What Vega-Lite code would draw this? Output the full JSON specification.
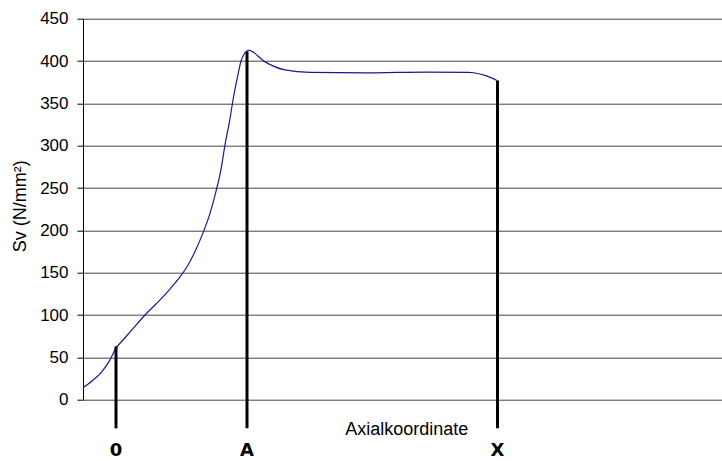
{
  "$schema": "https://vega.github.io/schema/vega-lite/v6.json",
  "width": 639,
  "height": 381,
  "autosize": {"type": "none"},
  "padding": {"left": 83, "top": 18.7, "right": 0, "bottom": 61.3},
  "background": "white",
  "config": {"view": {"stroke": null}, "font": "Liberation Sans"},
  "datasets": {
    "curve": [
      {"x": 0, "sv": 14}, {"x": 9, "sv": 22}, {"x": 18.7, "sv": 33}, {"x": 26, "sv": 45}, {"x": 33, "sv": 61}, {"x": 40, "sv": 70.5},
      {"x": 50, "sv": 84}, {"x": 62, "sv": 100}, {"x": 73, "sv": 113}, {"x": 85, "sv": 128}, {"x": 95, "sv": 142}, {"x": 104, "sv": 157}, {"x": 112, "sv": 175}, {"x": 120, "sv": 197},
      {"x": 127, "sv": 220}, {"x": 133, "sv": 246}, {"x": 138, "sv": 272}, {"x": 142, "sv": 301}, {"x": 147, "sv": 332}, {"x": 150, "sv": 354},
      {"x": 155, "sv": 384}, {"x": 158, "sv": 400}, {"x": 161, "sv": 408}, {"x": 166, "sv": 412.5}, {"x": 182, "sv": 399},
      {"x": 202, "sv": 389.5}, {"x": 227, "sv": 386.5}, {"x": 284, "sv": 386}, {"x": 344, "sv": 387},
      {"x": 385, "sv": 386.5}, {"x": 396, "sv": 385}, {"x": 402, "sv": 383}, {"x": 414, "sv": 377}
    ],
    "marks": [
      {"x": 33, "top": 63, "bottom": -33.8, "label": "0", "ly": -60.5},
      {"x": 164, "top": 411, "bottom": -33.8, "label": "A", "ly": -60.5},
      {"x": 414.5, "top": 377, "bottom": -33.8, "label": "X", "ly": -60.5}
    ],
    "note": [{"x": 323.7, "y": -36, "text": "Axialkoordinate"}]
  },
  "layer": [
    {
      "data": {"name": "curve"},
      "mark": {"type": "line", "color": "#1a1a8c", "strokeWidth": 1.2, "interpolate": "monotone"},
      "encoding": {
        "x": {"field": "x", "type": "quantitative", "scale": {"domain": [0, 639], "nice": false, "zero": false}, "axis": null},
        "y": {"field": "sv", "type": "quantitative", "scale": {"domain": [0, 450], "nice": false},
          "axis": {
            "title": "Sv (N/mm²)", "values": [0, 50, 100, 150, 200, 250, 300, 350, 400, 450],
            "grid": true, "gridColor": "#444", "gridWidth": 1, "gridOpacity": 1,
            "domainColor": "#000", "domainWidth": 1, "tickColor": "#000", "tickSize": 6,
            "labelFontSize": 17, "labelColor": "#000", "labelPadding": 9, "labelFont": "Liberation Sans",
            "titleFontSize": 18, "titleFontWeight": "normal", "titleColor": "#000", "titleFont": "Liberation Sans",
            "titleX": -63, "titleY": 187, "titleAngle": -90, "titleAlign": "center", "titleBaseline": "middle"
          }
        }
      }
    },
    {
      "data": {"name": "marks"},
      "mark": {"type": "rule", "color": "#000", "strokeWidth": 3},
      "encoding": {
        "x": {"field": "x", "type": "quantitative"},
        "y": {"field": "top", "type": "quantitative"},
        "y2": {"field": "bottom"}
      }
    },
    {
      "data": {"name": "marks"},
      "mark": {"type": "text", "font": "DejaVu Sans", "fontWeight": "bold", "fontSize": 18, "color": "#000", "baseline": "middle", "align": "center"},
      "encoding": {
        "x": {"field": "x", "type": "quantitative"},
        "y": {"field": "ly", "type": "quantitative"},
        "text": {"field": "label"}
      }
    },
    {
      "data": {"name": "note"},
      "mark": {"type": "text", "font": "Liberation Sans", "fontSize": 18, "color": "#000", "baseline": "middle", "align": "center"},
      "encoding": {
        "x": {"field": "x", "type": "quantitative"},
        "y": {"field": "y", "type": "quantitative"},
        "text": {"field": "text"}
      }
    }
  ]
}
